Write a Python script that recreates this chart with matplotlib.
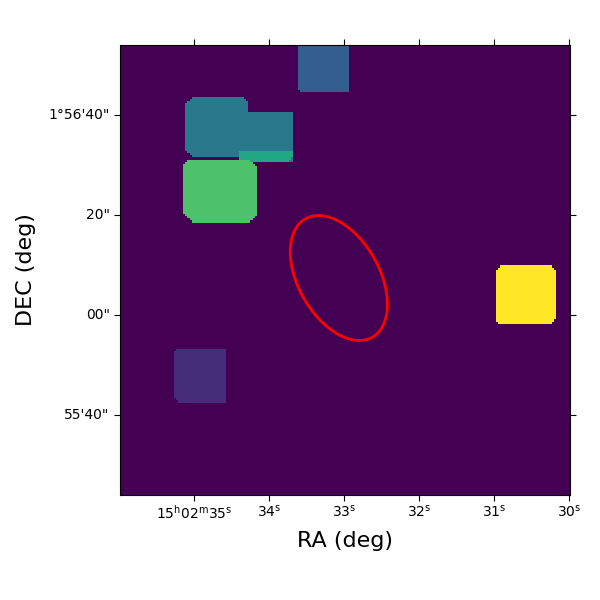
import numpy as np
import matplotlib
matplotlib.use("Agg")
import matplotlib.pyplot as plt
from matplotlib.patches import Ellipse
from matplotlib.transforms import ScaledTranslation

# Footprints: RA seconds (left, right), DEC arcsec above 1d55m (top, bottom), value, corner cuts (TL, TR, BL, BR)
names = ["blue", "teal1", "teal2", "strip", "green", "yellow", "purple"]
ra_left = [33.630, 35.110, 34.397, 34.397, 35.135, 30.985, 35.277]
ra_right = [32.920, 34.285, 33.688, 33.688, 34.168, 30.185, 34.567]
dec_top = [116.0, 103.7, 100.3, 92.8, 91.0, 69.75, 53.1]
dec_bottom = [104.66, 91.4, 90.6, 90.6, 78.4, 58.14, 42.34]
values = [0.30, 0.40, 0.40, 0.60, 0.72, 1.0, 0.13]
cuts = [(0, 0, 0.8, 0), (1.3, 1.3, 1.5, 0), (0, 0, 0, 0), (0, 0, 0, 0.8), (1.0, 1.6, 1.8, 1.6), (1.0, 1.0, 1.0, 1.0), (0.7, 0, 1.3, 0)]

ra_ticks = [35, 34, 33, 32, 31, 30]
ra_labels = [r"15$^{\mathrm{h}}$02$^{\mathrm{m}}$35$^{\mathrm{s}}$", r"34$^{\mathrm{s}}$", r"33$^{\mathrm{s}}$",
             r"32$^{\mathrm{s}}$", r"31$^{\mathrm{s}}$", r"30$^{\mathrm{s}}$"]
dec_ticks = [100, 80, 60, 40]
dec_labels = ["1°56'40\"", "20\"", "00\"", "55'40\""]

ra_lim = (35.987, 29.993)
dec_lim = (24.0, 114.0)

ell_ra, ell_dec = 33.072, 67.4
ell_major, ell_minor, ell_angle = 27.2, 16.2, 60.6

S = 15.0  # arcsec per RA second
n = 200
x_edges = np.linspace(ra_lim[0] * S, ra_lim[1] * S, n + 1)
y_edges = np.linspace(dec_lim[1], dec_lim[0], n + 1)
xc = 0.5 * (x_edges[:-1] + x_edges[1:])
yc = 0.5 * (y_edges[:-1] + y_edges[1:])
X, Y = np.meshgrid(xc, yc)
img = np.zeros((n, n))
for l, r, t, b, v, c in zip(ra_left, ra_right, dec_top, dec_bottom, values, cuts):
    dl = l * S - X
    dr = X - r * S
    dt = t - Y
    db = Y - b
    m = (dl >= 0) & (dr >= 0) & (dt >= 0) & (db >= 0)
    for cut, a, e in zip(c, (dl, dr, dl, dr), (dt, dt, db, db)):
        if cut > 0:
            m &= (a + e) >= cut
    img[m] = v

fig = plt.figure(figsize=(6, 6), dpi=100)
ax = fig.add_axes([0.2, 0.175, 0.75, 0.75])
ax.imshow(img, cmap="viridis", vmin=0, vmax=1, interpolation="nearest", aspect="equal",
          extent=[ra_lim[0] * S, ra_lim[1] * S, dec_lim[0], dec_lim[1]], origin="upper")
ax.add_patch(Ellipse((ell_ra * S, ell_dec), ell_major, ell_minor, angle=ell_angle,
                     fill=False, edgecolor="red", linewidth=2))
ax.set_xlim(ra_lim[0] * S, ra_lim[1] * S)
ax.set_ylim(*dec_lim)
ax.set_xticks([t * S for t in ra_ticks])
ax.set_xticklabels(ra_labels, fontsize=10)
ax.set_yticks(dec_ticks)
ax.set_yticklabels(dec_labels, fontsize=10)
ax.tick_params(top=True, right=True, direction="out", length=4.5)
ax.tick_params(axis="x", pad=1.5)
ax.tick_params(axis="y", pad=3.0)
for lab in ax.get_yticklabels():
    lab.set_transform(lab.get_transform() + ScaledTranslation(0, 1.5 / 100, fig.dpi_scale_trans))
ax.set_xlabel("RA (deg)", fontsize=16, labelpad=7)
ax.set_ylabel("DEC (deg)", fontsize=16, labelpad=9)
fig.savefig("out.png", dpi=100)
